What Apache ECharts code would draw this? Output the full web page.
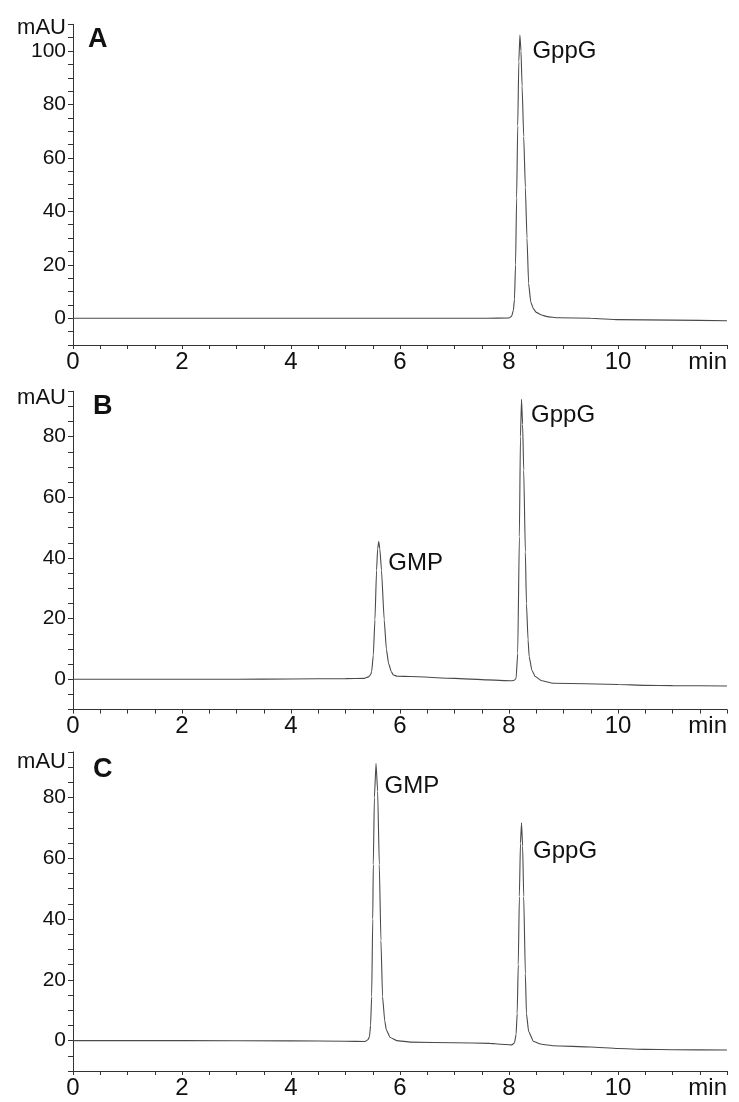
<!DOCTYPE html>
<html>
<head>
<meta charset="utf-8">
<script src="https://cdn.jsdelivr.net/npm/echarts@6/dist/echarts.min.js"></script>
<style>
html,body{margin:0;padding:0;background:#fff;}
#chart{width:739px;height:1102px;}
</style>
</head>
<body>
<div id="chart"></div>
<script>
// ---- data (retention time in min, absorbance in mAU) ----
const panelNames = ['A', 'B', 'C'];

const traceA = [
  [0,0],[1,0],[2,0],[3,0],[4,0],[5,0],[6,0],[7,0],[7.6,0],[8.00,0.1],[8.05,0.8],[8.08,3],[8.10,7],
  [8.12,20],[8.14,45],[8.16,72],[8.18,96],[8.20,106],[8.22,100],[8.24,87],[8.27,68],[8.30,49],
  [8.33,30],[8.36,13],[8.40,6],[8.45,3.5],[8.50,2.2],[8.60,1.2],[8.70,0.6],[8.90,0.2],[9.5,0],
  [10,-0.5],[11,-0.7],[12,-0.9]
];

const traceB = [
  [0,0],[1,0],[2,0],[3,0],[4,0.1],[5,0.2],[5.35,0.3],[5.42,0.8],[5.46,1.5],[5.48,2.5],[5.51,8],
  [5.54,19.6],[5.57,36],[5.59,43],[5.61,45.4],[5.63,43],[5.66,36],[5.71,19.6],[5.75,10],[5.79,5.3],
  [5.84,2.5],[5.88,1.4],[5.95,1.0],[6.2,0.9],[7.0,0.3],[7.6,-0.2],[8.05,-0.5],[8.10,-0.3],[8.13,0.3],
  [8.16,8.6],[8.19,47],[8.21,80],[8.23,92.3],[8.25,84],[8.27,69],[8.30,42],[8.32,25],[8.35,13],
  [8.37,7.5],[8.42,3],[8.48,0.9],[8.6,-0.5],[8.81,-1.3],[10,-1.7],[10.5,-2.0],[11,-2.1],[12,-2.2]
];

const traceC = [
  [0,0],[2,0],[4,-0.1],[5,-0.2],[5.36,-0.3],[5.41,0.3],[5.44,1.3],[5.46,5],[5.48,14.5],[5.50,40],
  [5.51,58],[5.53,80],[5.56,91.2],[5.59,82],[5.62,58],[5.65,33],[5.68,14.5],[5.72,6.5],[5.75,3.5],
  [5.82,1],[5.94,0],[6.2,-0.5],[7.0,-0.7],[7.65,-0.9],[7.85,-1.2],[8.05,-1.4],[8.10,-0.8],[8.13,2],
  [8.15,9],[8.17,25],[8.19,47.4],[8.21,65],[8.23,71.7],[8.25,64],[8.27,47.4],[8.30,22],[8.32,9],
  [8.36,3],[8.45,-0.3],[8.6,-1.2],[8.81,-1.7],[9.5,-2.1],[10,-2.6],[10.5,-2.9],[11,-3.0],[12,-3.1]
];

const traces = [traceA, traceB, traceC];

// peak annotations: panel index, text, apex of peak
const peakLabels = [
  {panel:0, name:'GppG', x:8.20, y:106},
  {panel:1, name:'GMP',  x:5.61, y:45.4},
  {panel:1, name:'GppG', x:8.23, y:92.3},
  {panel:2, name:'GMP',  x:5.56, y:91.2},
  {panel:2, name:'GppG', x:8.23, y:71.7}
];

const xMin = 0, xMax = 12, xTickStep = 0.5, xLabelStep = 2;
const yMins = [-10, -10, -10];
const yMaxs = [110, 95, 95];
const yTickStep = 5, yLabelStep = 20;

// ---- layout / style ----
const FONT = 'Liberation Sans, Arial, Helvetica, sans-serif';
const grids = [
  {left:73, right:12, top:24.3, height:320.7},
  {left:73, right:12, top:391.2, height:318.4},
  {left:73, right:12, top:751.9, height:319.1}
];
const nameGaps = [-4, -7, -10];
const labelOffsets = [[13,17],[10,22],[10,16],[9,23],[12,29]];
const letterPos = [[88,41],[93,408],[93,771]];

const axisColor = '#333';
const textColor = '#111';

const xAxes = grids.map((g, i) => ({
  type:'value', gridIndex:i, min:xMin, max:xMax, interval:xTickStep,
  axisLine:{show:true, onZero:false, lineStyle:{color:axisColor, width:1}},
  axisTick:{show:true, inside:false, length:4, lineStyle:{color:axisColor}},
  splitLine:{show:false},
  axisLabel:{
    show:true, fontSize:24, color:textColor, fontFamily:FONT, margin:5,
    alignMaxLabel:'right',
    formatter: v => (v === xMax ? 'min' : (v % xLabelStep === 0 ? String(v) : ''))
  }
}));

const yAxes = grids.map((g, i) => ({
  type:'value', gridIndex:i, min:yMins[i], max:yMaxs[i], interval:yTickStep,
  name:'mAU', nameLocation:'end', nameGap:nameGaps[i],
  nameTextStyle:{fontSize:22, color:textColor, fontFamily:FONT, align:'right', verticalAlign:'middle', padding:[0,7,0,0]},
  axisLine:{show:true, onZero:false, lineStyle:{color:axisColor, width:1}},
  axisTick:{show:true, inside:false, length:5, lineStyle:{color:axisColor}},
  splitLine:{show:false},
  axisLabel:{
    show:true, fontSize:21, color:textColor, fontFamily:FONT, margin:7,
    formatter: v => (v >= 0 && v % yLabelStep === 0 ? String(v) : '')
  }
}));

const series = traces.map((tr, i) => ({
  type:'line', xAxisIndex:i, yAxisIndex:i, data:tr,
  showSymbol:false, symbol:'none', smooth:0.15, smoothMonotone:'x',
  lineStyle:{color:'#4a4a4a', width:1.1},
  animation:false,
  markPoint:{
    symbol:'circle', symbolSize:1, itemStyle:{color:'rgba(0,0,0,0)'},
    animation:false, silent:true,
    data: peakLabels.map((p, k) => ({p, k})).filter(o => o.p.panel === i).map(o => ({
      coord:[o.p.x, o.p.y], name:o.p.name, value:o.p.y,
      label:{
        show:true, formatter:o.p.name, position:labelOffsets[o.k],
        align:'left', verticalAlign:'middle',
        fontSize:24, color:textColor, fontFamily:FONT
      }
    }))
  }
}));

const graphic = panelNames.map((n, i) => ({
  type:'text', left:letterPos[i][0], top:letterPos[i][1] - 15,
  style:{text:n, font:'bold 27px ' + FONT, fill:textColor}
}));

const chart = echarts.init(document.getElementById('chart'), null, {renderer:'canvas'});
chart.setOption({
  backgroundColor:'#fff',
  animation:false,
  grid:grids,
  xAxis:xAxes,
  yAxis:yAxes,
  series:series,
  graphic:graphic
});
</script>
</body>
</html>
